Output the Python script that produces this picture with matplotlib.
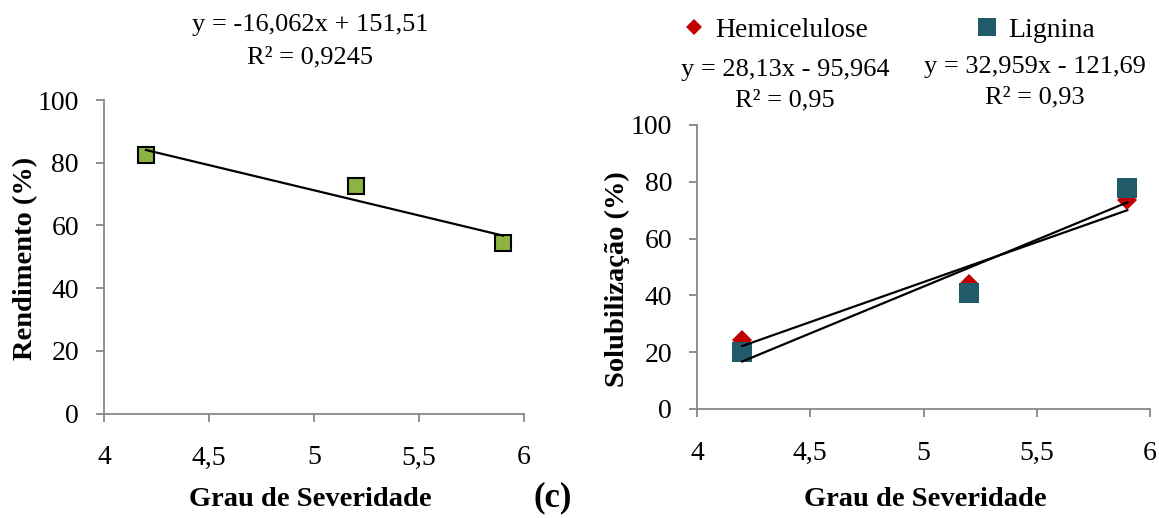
import matplotlib
matplotlib.use("Agg")
import matplotlib.pyplot as plt
from matplotlib.ticker import FuncFormatter
import numpy as np

plt.rcParams['font.family'] = ['Liberation Serif', 'DejaVu Serif']

# ---- data -------------------------------------------------------------
severidade = [4.2, 5.2, 5.9]

rendimento = [82.3, 72.5, 54.4]
rend_coef = (-16.062, 151.51)          # slope, intercept
rend_r2 = "0,9245"

hemicelulose = [24.3, 43.9, 73.6]
hemi_coef = (28.13, -95.964)
hemi_r2 = "0,95"

lignina = [20.2, 40.7, 77.9]
lign_coef = (32.959, -121.69)
lign_r2 = "0,93"

x_ticks = [4, 4.5, 5, 5.5, 6]
y_ticks = [0, 20, 40, 60, 80, 100]

# ---- style ------------------------------------------------------------
W, H = 1159, 518
FS = 19          # equations
FS_TICK = 20
FS_LAB = 20.5    # bold axis titles
GRAY = '#878787'
GREEN = '#8db443'
RED = '#c00000'
TEAL = '#215a69'


def comma(v, _pos=None):
    s = f"{v:g}"
    return s.replace('.', ',')


def eq_text(coef):
    a, b = coef
    sign = '+' if b >= 0 else '-'
    return f"y = {comma(a)}x {sign} {comma(abs(b))}"


def style_axes(ax):
    for side in ('top', 'right'):
        ax.spines[side].set_visible(False)
    for side in ('left', 'bottom'):
        ax.spines[side].set_color(GRAY)
        ax.spines[side].set_linewidth(1.3)
    ax.set_xlim(4, 6)
    ax.set_ylim(0, 100)
    ax.set_xticks(x_ticks)
    ax.set_yticks(y_ticks)
    ax.xaxis.set_major_formatter(FuncFormatter(comma))
    ax.tick_params(axis='both', direction='out', length=6, width=1.3,
                   color=GRAY, labelsize=FS_TICK)
    ax.tick_params(axis='x', pad=17)
    ax.tick_params(axis='y', pad=12)
    ax.set_facecolor('none')


def trend(ax, xs, coef):
    a, b = coef
    xx = np.array([min(xs), max(xs)])
    ax.plot(xx, a * xx + b, color='black', lw=1.6, zorder=5)


fig = plt.figure(figsize=(W / 100, H / 100), dpi=100)

# ---- left panel: rendimento ------------------------------------------
ax1 = fig.add_axes([104 / W, 1 - 413.5 / H, 420 / W, 313.5 / H])
style_axes(ax1)
ax1.plot(severidade, rendimento, ls='none', marker='s', ms=12,
         mfc=GREEN, mec='black', mew=1.5, zorder=4)
trend(ax1, severidade, rend_coef)

fig.text(310 / W, 1 - 25 / H, eq_text(rend_coef), ha='center', va='center',
         fontsize=FS)
fig.text(310 / W, 1 - 57 / H, f"R² = {rend_r2}", ha='center', va='center',
         fontsize=FS)
fig.text(26 / W, 1 - 258 / H, "Rendimento (%)", rotation=90, ha='center',
         va='center', fontsize=FS_LAB, fontweight='bold')
fig.text(310 / W, 1 - 500 / H, "Grau de Severidade", ha='center',
         va='center', fontsize=FS_LAB, fontweight='bold')
fig.text(553 / W, 1 - 498 / H, "(c)", ha='center', va='center',
         fontsize=25, fontweight='bold')

# ---- right panel: solubilização --------------------------------------
ax2 = fig.add_axes([697 / W, 1 - 409 / H, 453 / W, 284 / H])
style_axes(ax2)
h_hemi, = ax2.plot(severidade, hemicelulose, ls='none', marker='D', ms=10.5,
                   mfc=RED, mec=RED, mew=0, zorder=3, label='Hemicelulose')
h_lign, = ax2.plot(severidade, lignina, ls='none', marker='s', ms=15,
                   mfc=TEAL, mec=TEAL, mew=0, zorder=4, label='Lignina')
trend(ax2, severidade, hemi_coef)
trend(ax2, severidade, lign_coef)

fig.legend(handles=[h_hemi, h_lign], loc='center left',
           bbox_to_anchor=(683 / W, 1 - 30 / H), ncol=2, frameon=False,
           fontsize=20, markerscale=0.82, handlelength=0.8,
           handletextpad=0.35, columnspacing=3.9, borderpad=0,
           borderaxespad=0)

fig.text(785 / W, 1 - 70 / H, eq_text(hemi_coef), ha='center', va='center',
         fontsize=FS)
fig.text(785 / W, 1 - 100 / H, f"R² = {hemi_r2}", ha='center', va='center',
         fontsize=FS)
fig.text(1035 / W, 1 - 67 / H, eq_text(lign_coef), ha='center', va='center',
         fontsize=FS)
fig.text(1035 / W, 1 - 97 / H, f"R² = {lign_r2}", ha='center', va='center',
         fontsize=FS)
fig.text(617 / W, 1 - 279 / H, "Solubilização (%)", rotation=90,
         ha='center', va='center', fontsize=FS_LAB, fontweight='bold')
fig.text(925 / W, 1 - 500 / H, "Grau de Severidade", ha='center',
         va='center', fontsize=FS_LAB, fontweight='bold')

fig.savefig('out.png', dpi=100, facecolor='white')
